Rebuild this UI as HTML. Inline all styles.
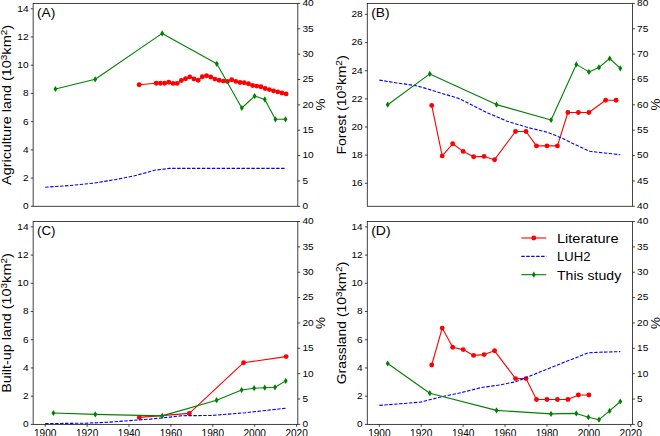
<!DOCTYPE html>
<html><head><meta charset="utf-8"><style>
html,body{margin:0;padding:0;background:#fff;}
body{width:660px;height:436px;overflow:hidden;}
svg{display:block;font-family:"Liberation Sans", sans-serif;}
</style></head><body>
<svg width="660" height="436" viewBox="0 0 660 436">
<rect width="660" height="436" fill="#fff"/>
<polyline points="139.10,84.70 156.23,83.20 160.42,83.20 164.61,83.20 168.80,82.30 172.99,83.40 177.18,83.40 181.37,80.50 185.56,78.70 189.75,76.90 193.94,78.90 198.13,80.20 202.32,76.80 206.51,75.80 210.70,77.00 214.89,79.10 219.08,80.30 223.27,81.10 227.46,81.40 231.65,79.70 235.84,81.40 240.03,82.50 244.22,82.70 248.41,83.80 252.60,85.50 256.79,86.10 260.98,86.80 265.17,88.50 269.36,89.60 273.55,90.90 277.74,91.90 281.93,93.00 286.12,93.90" fill="none" stroke="#ff0000" stroke-width="1.1" stroke-linejoin="round" stroke-linecap="butt"/><circle cx="139.10" cy="84.70" r="2.45" fill="#ff0000"/><circle cx="156.23" cy="83.20" r="2.45" fill="#ff0000"/><circle cx="160.42" cy="83.20" r="2.45" fill="#ff0000"/><circle cx="164.61" cy="83.20" r="2.45" fill="#ff0000"/><circle cx="168.80" cy="82.30" r="2.45" fill="#ff0000"/><circle cx="172.99" cy="83.40" r="2.45" fill="#ff0000"/><circle cx="177.18" cy="83.40" r="2.45" fill="#ff0000"/><circle cx="181.37" cy="80.50" r="2.45" fill="#ff0000"/><circle cx="185.56" cy="78.70" r="2.45" fill="#ff0000"/><circle cx="189.75" cy="76.90" r="2.45" fill="#ff0000"/><circle cx="193.94" cy="78.90" r="2.45" fill="#ff0000"/><circle cx="198.13" cy="80.20" r="2.45" fill="#ff0000"/><circle cx="202.32" cy="76.80" r="2.45" fill="#ff0000"/><circle cx="206.51" cy="75.80" r="2.45" fill="#ff0000"/><circle cx="210.70" cy="77.00" r="2.45" fill="#ff0000"/><circle cx="214.89" cy="79.10" r="2.45" fill="#ff0000"/><circle cx="219.08" cy="80.30" r="2.45" fill="#ff0000"/><circle cx="223.27" cy="81.10" r="2.45" fill="#ff0000"/><circle cx="227.46" cy="81.40" r="2.45" fill="#ff0000"/><circle cx="231.65" cy="79.70" r="2.45" fill="#ff0000"/><circle cx="235.84" cy="81.40" r="2.45" fill="#ff0000"/><circle cx="240.03" cy="82.50" r="2.45" fill="#ff0000"/><circle cx="244.22" cy="82.70" r="2.45" fill="#ff0000"/><circle cx="248.41" cy="83.80" r="2.45" fill="#ff0000"/><circle cx="252.60" cy="85.50" r="2.45" fill="#ff0000"/><circle cx="256.79" cy="86.10" r="2.45" fill="#ff0000"/><circle cx="260.98" cy="86.80" r="2.45" fill="#ff0000"/><circle cx="265.17" cy="88.50" r="2.45" fill="#ff0000"/><circle cx="269.36" cy="89.60" r="2.45" fill="#ff0000"/><circle cx="273.55" cy="90.90" r="2.45" fill="#ff0000"/><circle cx="277.74" cy="91.90" r="2.45" fill="#ff0000"/><circle cx="281.93" cy="93.00" r="2.45" fill="#ff0000"/><circle cx="286.12" cy="93.90" r="2.45" fill="#ff0000"/><polyline points="45.20,187.20 69.50,185.60 93.20,183.20 114.80,179.70 134.50,175.80 146.40,172.60 154.10,170.30 169.40,168.40 286.12,168.40" fill="none" stroke="#0000ff" stroke-width="1.1" stroke-linejoin="round" stroke-linecap="butt" stroke-dasharray="3.45 1.5"/><polyline points="55.40,89.00 95.20,79.30 162.20,33.40 216.80,63.80 241.80,108.00 254.60,96.10 264.80,99.40 275.40,119.30 285.50,119.30" fill="none" stroke="#008000" stroke-width="1.1" stroke-linejoin="round" stroke-linecap="butt"/><path d="M55.40,85.90L57.35,89.00L55.40,92.10L53.45,89.00Z" fill="#008000"/><path d="M95.20,76.20L97.15,79.30L95.20,82.40L93.25,79.30Z" fill="#008000"/><path d="M162.20,30.30L164.15,33.40L162.20,36.50L160.25,33.40Z" fill="#008000"/><path d="M216.80,60.70L218.75,63.80L216.80,66.90L214.85,63.80Z" fill="#008000"/><path d="M241.80,104.90L243.75,108.00L241.80,111.10L239.85,108.00Z" fill="#008000"/><path d="M254.60,93.00L256.55,96.10L254.60,99.20L252.65,96.10Z" fill="#008000"/><path d="M264.80,96.30L266.75,99.40L264.80,102.50L262.85,99.40Z" fill="#008000"/><path d="M275.40,116.20L277.35,119.30L275.40,122.40L273.45,119.30Z" fill="#008000"/><path d="M285.50,116.20L287.45,119.30L285.50,122.40L283.55,119.30Z" fill="#008000"/><rect x="33.15" y="3.4" width="264.65" height="202.90" fill="none" stroke="#222" stroke-width="0.85"/><line x1="30.75" y1="206.30" x2="33.15" y2="206.30" stroke="#222" stroke-width="0.85"/><text x="28.55" y="209.20" font-size="9.72" text-anchor="end" textLength="5.60" lengthAdjust="spacingAndGlyphs" fill="#000">0</text><line x1="30.75" y1="178.08" x2="33.15" y2="178.08" stroke="#222" stroke-width="0.85"/><text x="28.55" y="180.98" font-size="9.72" text-anchor="end" textLength="5.60" lengthAdjust="spacingAndGlyphs" fill="#000">2</text><line x1="30.75" y1="149.86" x2="33.15" y2="149.86" stroke="#222" stroke-width="0.85"/><text x="28.55" y="152.76" font-size="9.72" text-anchor="end" textLength="5.60" lengthAdjust="spacingAndGlyphs" fill="#000">4</text><line x1="30.75" y1="121.64" x2="33.15" y2="121.64" stroke="#222" stroke-width="0.85"/><text x="28.55" y="124.54" font-size="9.72" text-anchor="end" textLength="5.60" lengthAdjust="spacingAndGlyphs" fill="#000">6</text><line x1="30.75" y1="93.42" x2="33.15" y2="93.42" stroke="#222" stroke-width="0.85"/><text x="28.55" y="96.32" font-size="9.72" text-anchor="end" textLength="5.60" lengthAdjust="spacingAndGlyphs" fill="#000">8</text><line x1="30.75" y1="65.20" x2="33.15" y2="65.20" stroke="#222" stroke-width="0.85"/><text x="28.55" y="68.10" font-size="9.72" text-anchor="end" textLength="11.20" lengthAdjust="spacingAndGlyphs" fill="#000">10</text><line x1="30.75" y1="36.98" x2="33.15" y2="36.98" stroke="#222" stroke-width="0.85"/><text x="28.55" y="39.88" font-size="9.72" text-anchor="end" textLength="11.20" lengthAdjust="spacingAndGlyphs" fill="#000">12</text><line x1="30.75" y1="8.76" x2="33.15" y2="8.76" stroke="#222" stroke-width="0.85"/><text x="28.55" y="11.66" font-size="9.72" text-anchor="end" textLength="11.20" lengthAdjust="spacingAndGlyphs" fill="#000">14</text><line x1="297.8" y1="206.30" x2="300.2" y2="206.30" stroke="#222" stroke-width="0.85"/><text x="302.40" y="209.20" font-size="9.72" text-anchor="start" textLength="5.60" lengthAdjust="spacingAndGlyphs" fill="#000">0</text><line x1="297.8" y1="180.94" x2="300.2" y2="180.94" stroke="#222" stroke-width="0.85"/><text x="302.40" y="183.84" font-size="9.72" text-anchor="start" textLength="5.60" lengthAdjust="spacingAndGlyphs" fill="#000">5</text><line x1="297.8" y1="155.58" x2="300.2" y2="155.58" stroke="#222" stroke-width="0.85"/><text x="302.40" y="158.48" font-size="9.72" text-anchor="start" textLength="11.20" lengthAdjust="spacingAndGlyphs" fill="#000">10</text><line x1="297.8" y1="130.21" x2="300.2" y2="130.21" stroke="#222" stroke-width="0.85"/><text x="302.40" y="133.11" font-size="9.72" text-anchor="start" textLength="11.20" lengthAdjust="spacingAndGlyphs" fill="#000">15</text><line x1="297.8" y1="104.85" x2="300.2" y2="104.85" stroke="#222" stroke-width="0.85"/><text x="302.40" y="107.75" font-size="9.72" text-anchor="start" textLength="11.20" lengthAdjust="spacingAndGlyphs" fill="#000">20</text><line x1="297.8" y1="79.49" x2="300.2" y2="79.49" stroke="#222" stroke-width="0.85"/><text x="302.40" y="82.39" font-size="9.72" text-anchor="start" textLength="11.20" lengthAdjust="spacingAndGlyphs" fill="#000">25</text><line x1="297.8" y1="54.12" x2="300.2" y2="54.12" stroke="#222" stroke-width="0.85"/><text x="302.40" y="57.02" font-size="9.72" text-anchor="start" textLength="11.20" lengthAdjust="spacingAndGlyphs" fill="#000">30</text><line x1="297.8" y1="28.76" x2="300.2" y2="28.76" stroke="#222" stroke-width="0.85"/><text x="302.40" y="31.66" font-size="9.72" text-anchor="start" textLength="11.20" lengthAdjust="spacingAndGlyphs" fill="#000">35</text><line x1="297.8" y1="3.40" x2="300.2" y2="3.40" stroke="#222" stroke-width="0.85"/><text x="302.40" y="6.30" font-size="9.72" text-anchor="start" textLength="11.20" lengthAdjust="spacingAndGlyphs" fill="#000">40</text><text x="37.05" y="16.90" font-size="13.25" text-anchor="start" textLength="18.30" lengthAdjust="spacingAndGlyphs" fill="#000">(A)</text><polyline points="431.72,105.40 442.20,155.90 452.67,143.80 463.15,151.40 473.62,156.70 484.10,156.40 494.57,159.70 515.52,131.50 526.00,131.50 536.47,145.90 546.95,145.90 557.42,145.90 567.90,112.50 578.37,112.50 588.85,112.50 605.61,100.20 616.08,100.20" fill="none" stroke="#ff0000" stroke-width="1.1" stroke-linejoin="round" stroke-linecap="butt"/><circle cx="431.72" cy="105.40" r="2.45" fill="#ff0000"/><circle cx="442.20" cy="155.90" r="2.45" fill="#ff0000"/><circle cx="452.67" cy="143.80" r="2.45" fill="#ff0000"/><circle cx="463.15" cy="151.40" r="2.45" fill="#ff0000"/><circle cx="473.62" cy="156.70" r="2.45" fill="#ff0000"/><circle cx="484.10" cy="156.40" r="2.45" fill="#ff0000"/><circle cx="494.57" cy="159.70" r="2.45" fill="#ff0000"/><circle cx="515.52" cy="131.50" r="2.45" fill="#ff0000"/><circle cx="526.00" cy="131.50" r="2.45" fill="#ff0000"/><circle cx="536.47" cy="145.90" r="2.45" fill="#ff0000"/><circle cx="546.95" cy="145.90" r="2.45" fill="#ff0000"/><circle cx="557.42" cy="145.90" r="2.45" fill="#ff0000"/><circle cx="567.90" cy="112.50" r="2.45" fill="#ff0000"/><circle cx="578.37" cy="112.50" r="2.45" fill="#ff0000"/><circle cx="588.85" cy="112.50" r="2.45" fill="#ff0000"/><circle cx="605.61" cy="100.20" r="2.45" fill="#ff0000"/><circle cx="616.08" cy="100.20" r="2.45" fill="#ff0000"/><polyline points="379.35,80.10 395.60,82.70 415.30,85.60 423.20,87.60 438.90,92.50 458.60,98.40 472.40,105.30 488.20,113.20 500.00,118.10 507.00,121.20 528.20,127.60 547.30,132.20 562.10,138.20 574.90,144.50 589.70,151.30 604.60,153.00 620.27,154.70" fill="none" stroke="#0000ff" stroke-width="1.1" stroke-linejoin="round" stroke-linecap="butt" stroke-dasharray="3.45 1.5"/><polyline points="387.70,104.70 429.80,73.90 496.50,104.60 551.10,120.00 576.30,64.40 588.90,71.90 599.00,67.40 609.70,58.50 620.30,68.30" fill="none" stroke="#008000" stroke-width="1.1" stroke-linejoin="round" stroke-linecap="butt"/><path d="M387.70,101.60L389.65,104.70L387.70,107.80L385.75,104.70Z" fill="#008000"/><path d="M429.80,70.80L431.75,73.90L429.80,77.00L427.85,73.90Z" fill="#008000"/><path d="M496.50,101.50L498.45,104.60L496.50,107.70L494.55,104.60Z" fill="#008000"/><path d="M551.10,116.90L553.05,120.00L551.10,123.10L549.15,120.00Z" fill="#008000"/><path d="M576.30,61.30L578.25,64.40L576.30,67.50L574.35,64.40Z" fill="#008000"/><path d="M588.90,68.80L590.85,71.90L588.90,75.00L586.95,71.90Z" fill="#008000"/><path d="M599.00,64.30L600.95,67.40L599.00,70.50L597.05,67.40Z" fill="#008000"/><path d="M609.70,55.40L611.65,58.50L609.70,61.60L607.75,58.50Z" fill="#008000"/><path d="M620.30,65.20L622.25,68.30L620.30,71.40L618.35,68.30Z" fill="#008000"/><rect x="367.3" y="3.4" width="265.20" height="202.90" fill="none" stroke="#222" stroke-width="0.85"/><line x1="364.90000000000003" y1="183.30" x2="367.3" y2="183.30" stroke="#222" stroke-width="0.85"/><text x="362.70" y="186.20" font-size="9.72" text-anchor="end" textLength="11.20" lengthAdjust="spacingAndGlyphs" fill="#000">16</text><line x1="364.90000000000003" y1="155.15" x2="367.3" y2="155.15" stroke="#222" stroke-width="0.85"/><text x="362.70" y="158.05" font-size="9.72" text-anchor="end" textLength="11.20" lengthAdjust="spacingAndGlyphs" fill="#000">18</text><line x1="364.90000000000003" y1="127.00" x2="367.3" y2="127.00" stroke="#222" stroke-width="0.85"/><text x="362.70" y="129.90" font-size="9.72" text-anchor="end" textLength="11.20" lengthAdjust="spacingAndGlyphs" fill="#000">20</text><line x1="364.90000000000003" y1="98.85" x2="367.3" y2="98.85" stroke="#222" stroke-width="0.85"/><text x="362.70" y="101.75" font-size="9.72" text-anchor="end" textLength="11.20" lengthAdjust="spacingAndGlyphs" fill="#000">22</text><line x1="364.90000000000003" y1="70.70" x2="367.3" y2="70.70" stroke="#222" stroke-width="0.85"/><text x="362.70" y="73.60" font-size="9.72" text-anchor="end" textLength="11.20" lengthAdjust="spacingAndGlyphs" fill="#000">24</text><line x1="364.90000000000003" y1="42.55" x2="367.3" y2="42.55" stroke="#222" stroke-width="0.85"/><text x="362.70" y="45.45" font-size="9.72" text-anchor="end" textLength="11.20" lengthAdjust="spacingAndGlyphs" fill="#000">26</text><line x1="364.90000000000003" y1="14.40" x2="367.3" y2="14.40" stroke="#222" stroke-width="0.85"/><text x="362.70" y="17.30" font-size="9.72" text-anchor="end" textLength="11.20" lengthAdjust="spacingAndGlyphs" fill="#000">28</text><line x1="632.5" y1="206.30" x2="634.9" y2="206.30" stroke="#222" stroke-width="0.85"/><text x="637.10" y="209.20" font-size="9.72" text-anchor="start" textLength="11.20" lengthAdjust="spacingAndGlyphs" fill="#000">40</text><line x1="632.5" y1="180.94" x2="634.9" y2="180.94" stroke="#222" stroke-width="0.85"/><text x="637.10" y="183.84" font-size="9.72" text-anchor="start" textLength="11.20" lengthAdjust="spacingAndGlyphs" fill="#000">45</text><line x1="632.5" y1="155.58" x2="634.9" y2="155.58" stroke="#222" stroke-width="0.85"/><text x="637.10" y="158.48" font-size="9.72" text-anchor="start" textLength="11.20" lengthAdjust="spacingAndGlyphs" fill="#000">50</text><line x1="632.5" y1="130.21" x2="634.9" y2="130.21" stroke="#222" stroke-width="0.85"/><text x="637.10" y="133.11" font-size="9.72" text-anchor="start" textLength="11.20" lengthAdjust="spacingAndGlyphs" fill="#000">55</text><line x1="632.5" y1="104.85" x2="634.9" y2="104.85" stroke="#222" stroke-width="0.85"/><text x="637.10" y="107.75" font-size="9.72" text-anchor="start" textLength="11.20" lengthAdjust="spacingAndGlyphs" fill="#000">60</text><line x1="632.5" y1="79.49" x2="634.9" y2="79.49" stroke="#222" stroke-width="0.85"/><text x="637.10" y="82.39" font-size="9.72" text-anchor="start" textLength="11.20" lengthAdjust="spacingAndGlyphs" fill="#000">65</text><line x1="632.5" y1="54.12" x2="634.9" y2="54.12" stroke="#222" stroke-width="0.85"/><text x="637.10" y="57.02" font-size="9.72" text-anchor="start" textLength="11.20" lengthAdjust="spacingAndGlyphs" fill="#000">70</text><line x1="632.5" y1="28.76" x2="634.9" y2="28.76" stroke="#222" stroke-width="0.85"/><text x="637.10" y="31.66" font-size="9.72" text-anchor="start" textLength="11.20" lengthAdjust="spacingAndGlyphs" fill="#000">75</text><line x1="632.5" y1="3.40" x2="634.9" y2="3.40" stroke="#222" stroke-width="0.85"/><text x="637.10" y="6.30" font-size="9.72" text-anchor="start" textLength="11.20" lengthAdjust="spacingAndGlyphs" fill="#000">80</text><text x="371.20" y="16.90" font-size="13.25" text-anchor="start" textLength="18.33" lengthAdjust="spacingAndGlyphs" fill="#000">(B)</text><polyline points="139.30,417.40 189.30,413.40 243.60,362.70 286.12,356.60" fill="none" stroke="#ff0000" stroke-width="1.1" stroke-linejoin="round" stroke-linecap="butt"/><circle cx="139.30" cy="417.40" r="2.45" fill="#ff0000"/><circle cx="189.30" cy="413.40" r="2.45" fill="#ff0000"/><circle cx="243.60" cy="362.70" r="2.45" fill="#ff0000"/><circle cx="286.12" cy="356.60" r="2.45" fill="#ff0000"/><polyline points="45.20,423.60 86.30,423.20 107.00,422.30 128.60,420.70 150.30,419.10 170.00,417.10 181.80,415.70 211.40,415.50 245.50,412.70 286.12,408.20" fill="none" stroke="#0000ff" stroke-width="1.1" stroke-linejoin="round" stroke-linecap="butt" stroke-dasharray="3.45 1.5"/><polyline points="53.40,413.00 95.30,414.40 162.20,415.90 216.60,400.20 241.60,390.00 254.10,388.20 264.80,387.70 275.00,387.30 285.70,380.90" fill="none" stroke="#008000" stroke-width="1.1" stroke-linejoin="round" stroke-linecap="butt"/><path d="M53.40,409.90L55.35,413.00L53.40,416.10L51.45,413.00Z" fill="#008000"/><path d="M95.30,411.30L97.25,414.40L95.30,417.50L93.35,414.40Z" fill="#008000"/><path d="M162.20,412.80L164.15,415.90L162.20,419.00L160.25,415.90Z" fill="#008000"/><path d="M216.60,397.10L218.55,400.20L216.60,403.30L214.65,400.20Z" fill="#008000"/><path d="M241.60,386.90L243.55,390.00L241.60,393.10L239.65,390.00Z" fill="#008000"/><path d="M254.10,385.10L256.05,388.20L254.10,391.30L252.15,388.20Z" fill="#008000"/><path d="M264.80,384.60L266.75,387.70L264.80,390.80L262.85,387.70Z" fill="#008000"/><path d="M275.00,384.20L276.95,387.30L275.00,390.40L273.05,387.30Z" fill="#008000"/><path d="M285.70,377.80L287.65,380.90L285.70,384.00L283.75,380.90Z" fill="#008000"/><rect x="33.15" y="221.5" width="264.65" height="202.90" fill="none" stroke="#222" stroke-width="0.85"/><line x1="30.75" y1="424.40" x2="33.15" y2="424.40" stroke="#222" stroke-width="0.85"/><text x="28.55" y="427.30" font-size="9.72" text-anchor="end" textLength="5.60" lengthAdjust="spacingAndGlyphs" fill="#000">0</text><line x1="30.75" y1="396.18" x2="33.15" y2="396.18" stroke="#222" stroke-width="0.85"/><text x="28.55" y="399.08" font-size="9.72" text-anchor="end" textLength="5.60" lengthAdjust="spacingAndGlyphs" fill="#000">2</text><line x1="30.75" y1="367.96" x2="33.15" y2="367.96" stroke="#222" stroke-width="0.85"/><text x="28.55" y="370.86" font-size="9.72" text-anchor="end" textLength="5.60" lengthAdjust="spacingAndGlyphs" fill="#000">4</text><line x1="30.75" y1="339.74" x2="33.15" y2="339.74" stroke="#222" stroke-width="0.85"/><text x="28.55" y="342.64" font-size="9.72" text-anchor="end" textLength="5.60" lengthAdjust="spacingAndGlyphs" fill="#000">6</text><line x1="30.75" y1="311.52" x2="33.15" y2="311.52" stroke="#222" stroke-width="0.85"/><text x="28.55" y="314.42" font-size="9.72" text-anchor="end" textLength="5.60" lengthAdjust="spacingAndGlyphs" fill="#000">8</text><line x1="30.75" y1="283.30" x2="33.15" y2="283.30" stroke="#222" stroke-width="0.85"/><text x="28.55" y="286.20" font-size="9.72" text-anchor="end" textLength="11.20" lengthAdjust="spacingAndGlyphs" fill="#000">10</text><line x1="30.75" y1="255.08" x2="33.15" y2="255.08" stroke="#222" stroke-width="0.85"/><text x="28.55" y="257.98" font-size="9.72" text-anchor="end" textLength="11.20" lengthAdjust="spacingAndGlyphs" fill="#000">12</text><line x1="30.75" y1="226.86" x2="33.15" y2="226.86" stroke="#222" stroke-width="0.85"/><text x="28.55" y="229.76" font-size="9.72" text-anchor="end" textLength="11.20" lengthAdjust="spacingAndGlyphs" fill="#000">14</text><line x1="297.8" y1="424.40" x2="300.2" y2="424.40" stroke="#222" stroke-width="0.85"/><text x="302.40" y="427.30" font-size="9.72" text-anchor="start" textLength="5.60" lengthAdjust="spacingAndGlyphs" fill="#000">0</text><line x1="297.8" y1="399.04" x2="300.2" y2="399.04" stroke="#222" stroke-width="0.85"/><text x="302.40" y="401.94" font-size="9.72" text-anchor="start" textLength="5.60" lengthAdjust="spacingAndGlyphs" fill="#000">5</text><line x1="297.8" y1="373.67" x2="300.2" y2="373.67" stroke="#222" stroke-width="0.85"/><text x="302.40" y="376.57" font-size="9.72" text-anchor="start" textLength="11.20" lengthAdjust="spacingAndGlyphs" fill="#000">10</text><line x1="297.8" y1="348.31" x2="300.2" y2="348.31" stroke="#222" stroke-width="0.85"/><text x="302.40" y="351.21" font-size="9.72" text-anchor="start" textLength="11.20" lengthAdjust="spacingAndGlyphs" fill="#000">15</text><line x1="297.8" y1="322.95" x2="300.2" y2="322.95" stroke="#222" stroke-width="0.85"/><text x="302.40" y="325.85" font-size="9.72" text-anchor="start" textLength="11.20" lengthAdjust="spacingAndGlyphs" fill="#000">20</text><line x1="297.8" y1="297.59" x2="300.2" y2="297.59" stroke="#222" stroke-width="0.85"/><text x="302.40" y="300.49" font-size="9.72" text-anchor="start" textLength="11.20" lengthAdjust="spacingAndGlyphs" fill="#000">25</text><line x1="297.8" y1="272.23" x2="300.2" y2="272.23" stroke="#222" stroke-width="0.85"/><text x="302.40" y="275.12" font-size="9.72" text-anchor="start" textLength="11.20" lengthAdjust="spacingAndGlyphs" fill="#000">30</text><line x1="297.8" y1="246.86" x2="300.2" y2="246.86" stroke="#222" stroke-width="0.85"/><text x="302.40" y="249.76" font-size="9.72" text-anchor="start" textLength="11.20" lengthAdjust="spacingAndGlyphs" fill="#000">35</text><line x1="297.8" y1="221.50" x2="300.2" y2="221.50" stroke="#222" stroke-width="0.85"/><text x="302.40" y="224.40" font-size="9.72" text-anchor="start" textLength="11.20" lengthAdjust="spacingAndGlyphs" fill="#000">40</text><line x1="45.20" y1="424.4" x2="45.20" y2="426.79999999999995" stroke="#222" stroke-width="0.85"/><text x="45.20" y="436.80" font-size="10.00" text-anchor="middle" textLength="22.40" lengthAdjust="spacingAndGlyphs" fill="#000">1900</text><line x1="87.10" y1="424.4" x2="87.10" y2="426.79999999999995" stroke="#222" stroke-width="0.85"/><text x="87.10" y="436.80" font-size="10.00" text-anchor="middle" textLength="22.40" lengthAdjust="spacingAndGlyphs" fill="#000">1920</text><line x1="129.00" y1="424.4" x2="129.00" y2="426.79999999999995" stroke="#222" stroke-width="0.85"/><text x="129.00" y="436.80" font-size="10.00" text-anchor="middle" textLength="22.40" lengthAdjust="spacingAndGlyphs" fill="#000">1940</text><line x1="170.90" y1="424.4" x2="170.90" y2="426.79999999999995" stroke="#222" stroke-width="0.85"/><text x="170.90" y="436.80" font-size="10.00" text-anchor="middle" textLength="22.40" lengthAdjust="spacingAndGlyphs" fill="#000">1960</text><line x1="212.80" y1="424.4" x2="212.80" y2="426.79999999999995" stroke="#222" stroke-width="0.85"/><text x="212.80" y="436.80" font-size="10.00" text-anchor="middle" textLength="22.40" lengthAdjust="spacingAndGlyphs" fill="#000">1980</text><line x1="254.70" y1="424.4" x2="254.70" y2="426.79999999999995" stroke="#222" stroke-width="0.85"/><text x="254.70" y="436.80" font-size="10.00" text-anchor="middle" textLength="22.40" lengthAdjust="spacingAndGlyphs" fill="#000">2000</text><line x1="296.60" y1="424.4" x2="296.60" y2="426.79999999999995" stroke="#222" stroke-width="0.85"/><text x="296.60" y="436.80" font-size="10.00" text-anchor="middle" textLength="22.40" lengthAdjust="spacingAndGlyphs" fill="#000">2020</text><text x="37.05" y="235.00" font-size="13.25" text-anchor="start" textLength="18.48" lengthAdjust="spacingAndGlyphs" fill="#000">(C)</text><polyline points="431.72,365.00 442.20,328.10 452.67,347.30 463.15,349.60 473.62,355.40 484.10,354.60 494.57,350.80 515.52,378.60 526.00,378.60 536.47,399.50 546.95,399.50 557.42,399.50 567.90,399.50 578.37,395.00 588.85,395.00" fill="none" stroke="#ff0000" stroke-width="1.1" stroke-linejoin="round" stroke-linecap="butt"/><circle cx="431.72" cy="365.00" r="2.45" fill="#ff0000"/><circle cx="442.20" cy="328.10" r="2.45" fill="#ff0000"/><circle cx="452.67" cy="347.30" r="2.45" fill="#ff0000"/><circle cx="463.15" cy="349.60" r="2.45" fill="#ff0000"/><circle cx="473.62" cy="355.40" r="2.45" fill="#ff0000"/><circle cx="484.10" cy="354.60" r="2.45" fill="#ff0000"/><circle cx="494.57" cy="350.80" r="2.45" fill="#ff0000"/><circle cx="515.52" cy="378.60" r="2.45" fill="#ff0000"/><circle cx="526.00" cy="378.60" r="2.45" fill="#ff0000"/><circle cx="536.47" cy="399.50" r="2.45" fill="#ff0000"/><circle cx="546.95" cy="399.50" r="2.45" fill="#ff0000"/><circle cx="557.42" cy="399.50" r="2.45" fill="#ff0000"/><circle cx="567.90" cy="399.50" r="2.45" fill="#ff0000"/><circle cx="578.37" cy="395.00" r="2.45" fill="#ff0000"/><circle cx="588.85" cy="395.00" r="2.45" fill="#ff0000"/><polyline points="379.35,405.40 400.30,403.80 420.50,402.10 440.70,397.00 460.90,392.70 481.10,387.60 500.00,384.90 515.20,381.90 540.50,371.80 565.70,361.70 588.40,352.80 603.50,352.10 620.27,351.60" fill="none" stroke="#0000ff" stroke-width="1.1" stroke-linejoin="round" stroke-linecap="butt" stroke-dasharray="3.45 1.5"/><polyline points="387.70,363.50 429.80,393.20 496.50,410.40 551.00,413.90 576.30,413.40 588.40,417.20 599.00,419.70 609.60,410.90 620.30,401.50" fill="none" stroke="#008000" stroke-width="1.1" stroke-linejoin="round" stroke-linecap="butt"/><path d="M387.70,360.40L389.65,363.50L387.70,366.60L385.75,363.50Z" fill="#008000"/><path d="M429.80,390.10L431.75,393.20L429.80,396.30L427.85,393.20Z" fill="#008000"/><path d="M496.50,407.30L498.45,410.40L496.50,413.50L494.55,410.40Z" fill="#008000"/><path d="M551.00,410.80L552.95,413.90L551.00,417.00L549.05,413.90Z" fill="#008000"/><path d="M576.30,410.30L578.25,413.40L576.30,416.50L574.35,413.40Z" fill="#008000"/><path d="M588.40,414.10L590.35,417.20L588.40,420.30L586.45,417.20Z" fill="#008000"/><path d="M599.00,416.60L600.95,419.70L599.00,422.80L597.05,419.70Z" fill="#008000"/><path d="M609.60,407.80L611.55,410.90L609.60,414.00L607.65,410.90Z" fill="#008000"/><path d="M620.30,398.40L622.25,401.50L620.30,404.60L618.35,401.50Z" fill="#008000"/><rect x="367.3" y="221.5" width="265.20" height="202.90" fill="none" stroke="#222" stroke-width="0.85"/><line x1="364.90000000000003" y1="424.40" x2="367.3" y2="424.40" stroke="#222" stroke-width="0.85"/><text x="362.70" y="427.30" font-size="9.72" text-anchor="end" textLength="5.60" lengthAdjust="spacingAndGlyphs" fill="#000">0</text><line x1="364.90000000000003" y1="396.18" x2="367.3" y2="396.18" stroke="#222" stroke-width="0.85"/><text x="362.70" y="399.08" font-size="9.72" text-anchor="end" textLength="5.60" lengthAdjust="spacingAndGlyphs" fill="#000">2</text><line x1="364.90000000000003" y1="367.96" x2="367.3" y2="367.96" stroke="#222" stroke-width="0.85"/><text x="362.70" y="370.86" font-size="9.72" text-anchor="end" textLength="5.60" lengthAdjust="spacingAndGlyphs" fill="#000">4</text><line x1="364.90000000000003" y1="339.74" x2="367.3" y2="339.74" stroke="#222" stroke-width="0.85"/><text x="362.70" y="342.64" font-size="9.72" text-anchor="end" textLength="5.60" lengthAdjust="spacingAndGlyphs" fill="#000">6</text><line x1="364.90000000000003" y1="311.52" x2="367.3" y2="311.52" stroke="#222" stroke-width="0.85"/><text x="362.70" y="314.42" font-size="9.72" text-anchor="end" textLength="5.60" lengthAdjust="spacingAndGlyphs" fill="#000">8</text><line x1="364.90000000000003" y1="283.30" x2="367.3" y2="283.30" stroke="#222" stroke-width="0.85"/><text x="362.70" y="286.20" font-size="9.72" text-anchor="end" textLength="11.20" lengthAdjust="spacingAndGlyphs" fill="#000">10</text><line x1="364.90000000000003" y1="255.08" x2="367.3" y2="255.08" stroke="#222" stroke-width="0.85"/><text x="362.70" y="257.98" font-size="9.72" text-anchor="end" textLength="11.20" lengthAdjust="spacingAndGlyphs" fill="#000">12</text><line x1="364.90000000000003" y1="226.86" x2="367.3" y2="226.86" stroke="#222" stroke-width="0.85"/><text x="362.70" y="229.76" font-size="9.72" text-anchor="end" textLength="11.20" lengthAdjust="spacingAndGlyphs" fill="#000">14</text><line x1="632.5" y1="424.40" x2="634.9" y2="424.40" stroke="#222" stroke-width="0.85"/><text x="637.10" y="427.30" font-size="9.72" text-anchor="start" textLength="5.60" lengthAdjust="spacingAndGlyphs" fill="#000">0</text><line x1="632.5" y1="399.04" x2="634.9" y2="399.04" stroke="#222" stroke-width="0.85"/><text x="637.10" y="401.94" font-size="9.72" text-anchor="start" textLength="5.60" lengthAdjust="spacingAndGlyphs" fill="#000">5</text><line x1="632.5" y1="373.67" x2="634.9" y2="373.67" stroke="#222" stroke-width="0.85"/><text x="637.10" y="376.57" font-size="9.72" text-anchor="start" textLength="11.20" lengthAdjust="spacingAndGlyphs" fill="#000">10</text><line x1="632.5" y1="348.31" x2="634.9" y2="348.31" stroke="#222" stroke-width="0.85"/><text x="637.10" y="351.21" font-size="9.72" text-anchor="start" textLength="11.20" lengthAdjust="spacingAndGlyphs" fill="#000">15</text><line x1="632.5" y1="322.95" x2="634.9" y2="322.95" stroke="#222" stroke-width="0.85"/><text x="637.10" y="325.85" font-size="9.72" text-anchor="start" textLength="11.20" lengthAdjust="spacingAndGlyphs" fill="#000">20</text><line x1="632.5" y1="297.59" x2="634.9" y2="297.59" stroke="#222" stroke-width="0.85"/><text x="637.10" y="300.49" font-size="9.72" text-anchor="start" textLength="11.20" lengthAdjust="spacingAndGlyphs" fill="#000">25</text><line x1="632.5" y1="272.23" x2="634.9" y2="272.23" stroke="#222" stroke-width="0.85"/><text x="637.10" y="275.12" font-size="9.72" text-anchor="start" textLength="11.20" lengthAdjust="spacingAndGlyphs" fill="#000">30</text><line x1="632.5" y1="246.86" x2="634.9" y2="246.86" stroke="#222" stroke-width="0.85"/><text x="637.10" y="249.76" font-size="9.72" text-anchor="start" textLength="11.20" lengthAdjust="spacingAndGlyphs" fill="#000">35</text><line x1="632.5" y1="221.50" x2="634.9" y2="221.50" stroke="#222" stroke-width="0.85"/><text x="637.10" y="224.40" font-size="9.72" text-anchor="start" textLength="11.20" lengthAdjust="spacingAndGlyphs" fill="#000">40</text><line x1="379.35" y1="424.4" x2="379.35" y2="426.79999999999995" stroke="#222" stroke-width="0.85"/><text x="379.35" y="436.80" font-size="10.00" text-anchor="middle" textLength="22.40" lengthAdjust="spacingAndGlyphs" fill="#000">1900</text><line x1="421.25" y1="424.4" x2="421.25" y2="426.79999999999995" stroke="#222" stroke-width="0.85"/><text x="421.25" y="436.80" font-size="10.00" text-anchor="middle" textLength="22.40" lengthAdjust="spacingAndGlyphs" fill="#000">1920</text><line x1="463.15" y1="424.4" x2="463.15" y2="426.79999999999995" stroke="#222" stroke-width="0.85"/><text x="463.15" y="436.80" font-size="10.00" text-anchor="middle" textLength="22.40" lengthAdjust="spacingAndGlyphs" fill="#000">1940</text><line x1="505.05" y1="424.4" x2="505.05" y2="426.79999999999995" stroke="#222" stroke-width="0.85"/><text x="505.05" y="436.80" font-size="10.00" text-anchor="middle" textLength="22.40" lengthAdjust="spacingAndGlyphs" fill="#000">1960</text><line x1="546.95" y1="424.4" x2="546.95" y2="426.79999999999995" stroke="#222" stroke-width="0.85"/><text x="546.95" y="436.80" font-size="10.00" text-anchor="middle" textLength="22.40" lengthAdjust="spacingAndGlyphs" fill="#000">1980</text><line x1="588.85" y1="424.4" x2="588.85" y2="426.79999999999995" stroke="#222" stroke-width="0.85"/><text x="588.85" y="436.80" font-size="10.00" text-anchor="middle" textLength="22.40" lengthAdjust="spacingAndGlyphs" fill="#000">2000</text><line x1="630.75" y1="424.4" x2="630.75" y2="426.79999999999995" stroke="#222" stroke-width="0.85"/><text x="630.75" y="436.80" font-size="10.00" text-anchor="middle" textLength="22.40" lengthAdjust="spacingAndGlyphs" fill="#000">2020</text><text x="371.20" y="235.00" font-size="13.25" text-anchor="start" textLength="19.38" lengthAdjust="spacingAndGlyphs" fill="#000">(D)</text><g transform="translate(11.20 104.85) rotate(-90)"><text x="-80.08" y="0.00" font-size="13.25" textLength="124.74" lengthAdjust="spacingAndGlyphs">Agriculture land (10</text><text x="44.66" y="-4.10" font-size="9.80" textLength="5.57" lengthAdjust="spacingAndGlyphs">3</text><text x="50.22" y="0.00" font-size="13.25" textLength="19.42" lengthAdjust="spacingAndGlyphs">km</text><text x="69.64" y="-4.10" font-size="9.80" textLength="5.57" lengthAdjust="spacingAndGlyphs">2</text><text x="75.21" y="0.00" font-size="13.25" textLength="4.88" lengthAdjust="spacingAndGlyphs">)</text></g><g transform="translate(345.80 104.85) rotate(-90)"><text x="-49.63" y="0.00" font-size="13.25" textLength="63.84" lengthAdjust="spacingAndGlyphs">Forest (10</text><text x="14.21" y="-4.10" font-size="9.80" textLength="5.57" lengthAdjust="spacingAndGlyphs">3</text><text x="19.77" y="0.00" font-size="13.25" textLength="19.42" lengthAdjust="spacingAndGlyphs">km</text><text x="39.19" y="-4.10" font-size="9.80" textLength="5.57" lengthAdjust="spacingAndGlyphs">2</text><text x="44.75" y="0.00" font-size="13.25" textLength="4.88" lengthAdjust="spacingAndGlyphs">)</text></g><g transform="translate(11.20 322.95) rotate(-90)"><text x="-69.93" y="0.00" font-size="13.25" textLength="104.43" lengthAdjust="spacingAndGlyphs">Built-up land (10</text><text x="34.50" y="-4.10" font-size="9.80" textLength="5.57" lengthAdjust="spacingAndGlyphs">3</text><text x="40.07" y="0.00" font-size="13.25" textLength="19.42" lengthAdjust="spacingAndGlyphs">km</text><text x="59.48" y="-4.10" font-size="9.80" textLength="5.57" lengthAdjust="spacingAndGlyphs">2</text><text x="65.05" y="0.00" font-size="13.25" textLength="4.88" lengthAdjust="spacingAndGlyphs">)</text></g><g transform="translate(345.60 322.95) rotate(-90)"><text x="-61.34" y="0.00" font-size="13.25" textLength="87.26" lengthAdjust="spacingAndGlyphs">Grassland (10</text><text x="25.91" y="-4.10" font-size="9.80" textLength="5.57" lengthAdjust="spacingAndGlyphs">3</text><text x="31.48" y="0.00" font-size="13.25" textLength="19.42" lengthAdjust="spacingAndGlyphs">km</text><text x="50.90" y="-4.10" font-size="9.80" textLength="5.57" lengthAdjust="spacingAndGlyphs">2</text><text x="56.46" y="0.00" font-size="13.25" textLength="4.88" lengthAdjust="spacingAndGlyphs">)</text></g><text x="0" y="0" font-size="13.25" text-anchor="middle" textLength="11.88" lengthAdjust="spacingAndGlyphs" transform="translate(325.40 104.60) rotate(-90)">%</text><text x="0" y="0" font-size="13.25" text-anchor="middle" textLength="11.88" lengthAdjust="spacingAndGlyphs" transform="translate(659.80 104.60) rotate(-90)">%</text><text x="0" y="0" font-size="13.25" text-anchor="middle" textLength="11.88" lengthAdjust="spacingAndGlyphs" transform="translate(325.40 323.10) rotate(-90)">%</text><text x="0" y="0" font-size="13.25" text-anchor="middle" textLength="11.88" lengthAdjust="spacingAndGlyphs" transform="translate(659.80 323.10) rotate(-90)">%</text><polyline points="521.30,238.00 546.30,238.00" fill="none" stroke="#ff0000" stroke-width="1.1" stroke-linejoin="round" stroke-linecap="butt"/><circle cx="533.80" cy="238.00" r="2.45" fill="#ff0000"/><text x="557.00" y="242.80" font-size="13.25" text-anchor="start" textLength="61.48" lengthAdjust="spacingAndGlyphs" fill="#000">Literature</text><polyline points="521.30,256.35 546.30,256.35" fill="none" stroke="#0000ff" stroke-width="1.1" stroke-linejoin="round" stroke-linecap="butt" stroke-dasharray="3.45 1.5"/><text x="557.00" y="261.15" font-size="13.25" text-anchor="start" textLength="33.47" lengthAdjust="spacingAndGlyphs" fill="#000">LUH2</text><polyline points="521.30,274.70 546.30,274.70" fill="none" stroke="#008000" stroke-width="1.1" stroke-linejoin="round" stroke-linecap="butt"/><path d="M533.80,271.60L535.75,274.70L533.80,277.80L531.85,274.70Z" fill="#008000"/><text x="557.00" y="279.50" font-size="13.25" text-anchor="start" textLength="64.18" lengthAdjust="spacingAndGlyphs" fill="#000">This study</text>
</svg>
</body></html>
